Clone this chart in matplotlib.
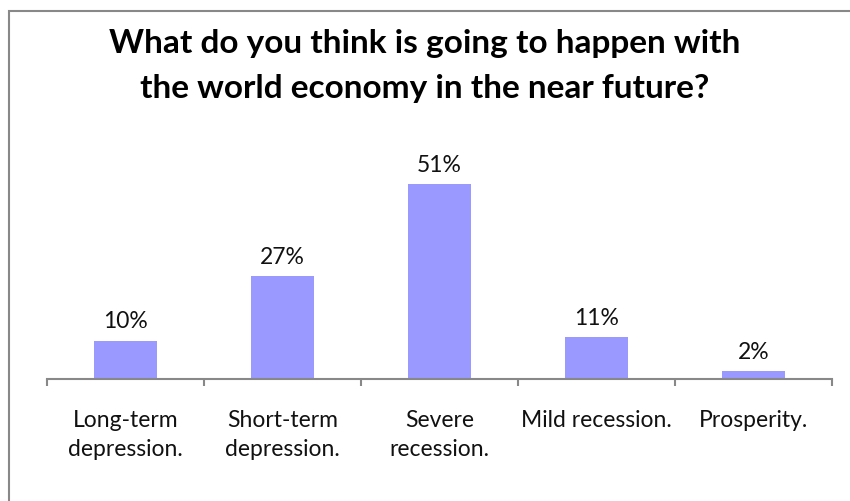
import numpy as np
import matplotlib
matplotlib.use("Agg")
import matplotlib.pyplot as plt
from matplotlib.patches import Rectangle

categories = ["Long-term\ndepression.", "Short-term\ndepression.", "Severe\nrecession.",
              "Mild recession.", "Prosperity."]
values = [10, 27, 51, 11, 2]
title = "What do you think is going to happen with\nthe world economy in the near future?"

plt.rcParams['font.family'] = ['Lato', 'DejaVu Sans']

fig = plt.figure(figsize=(8.5, 5.01), dpi=100)
# chart-area border (runs off the right and bottom edge)
fig.patches.append(Rectangle((9 / 850, -0.05), 1.1, 1 - 11 / 501 + 0.05,
                             transform=fig.transFigure, fill=False,
                             edgecolor='#888888', linewidth=1.5))

ax = fig.add_axes([47 / 850, 122 / 501, 785 / 850, 0.4571])
x = np.arange(len(values))
ax.bar(x, values, width=0.4, color='#9999FF')
ax.set_xlim(-0.5, len(values) - 0.5)
ax.set_ylim(0, 60)

for xi, v in zip(x, values):
    ax.annotate(f"{v}%", (xi, v), xytext=(0, 6), textcoords='offset points',
                ha='center', va='bottom', fontsize=16.5, color='#111111')

for xi, c in zip(x, categories):
    ax.annotate(c, (xi, 0), xytext=(0, -22), textcoords='offset points',
                ha='center', va='top', fontsize=16.5, color='#111111',
                linespacing=1.5, annotation_clip=False)

for s in ['left', 'right', 'top']:
    ax.spines[s].set_visible(False)
ax.spines['bottom'].set_color('#888888')
ax.spines['bottom'].set_linewidth(1.5)
ax.set_yticks([])
ax.set_xticks(np.arange(-0.5, len(values), 1.0))
ax.set_xticklabels([])
ax.tick_params(axis='x', direction='out', length=5, width=1.5, color='#888888')

fig.text(0.5, 1 - 66 / 501, title, ha='center', va='center', fontsize=24,
         fontweight='bold', linespacing=1.65)

fig.savefig("out.png", dpi=100)
